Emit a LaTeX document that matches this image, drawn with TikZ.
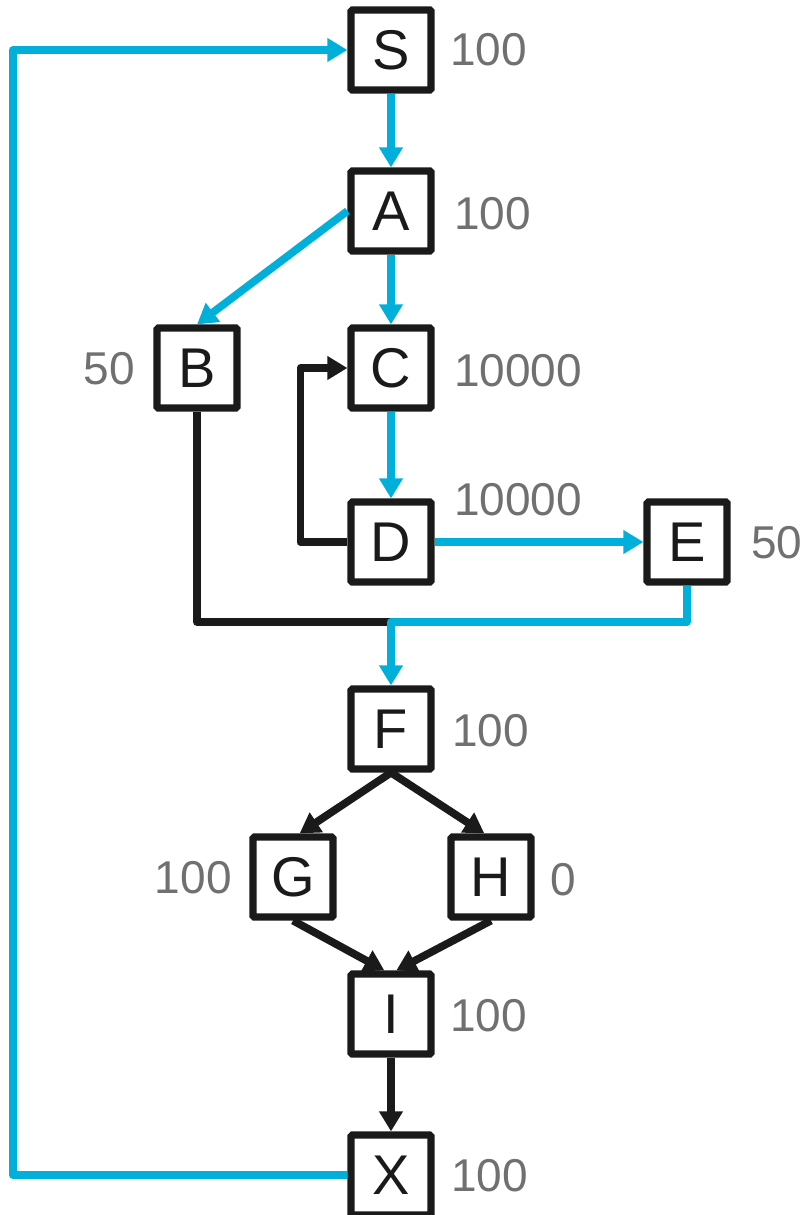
\documentclass[tikz,border=0pt]{standalone}
\usepackage{fontspec}
\setmainfont{Liberation Sans}
\usetikzlibrary{arrows.meta,calc}
\definecolor{flowblue}{HTML}{00B0DA}
\definecolor{boxblack}{HTML}{1A1A1A}
\definecolor{lblgray}{HTML}{707070}
\begin{document}
\begin{tikzpicture}[x=0.75pt,y=-0.75pt,
  box/.style={draw=boxblack,line width=5.4pt,rounded corners=1pt,fill=white,minimum size=60pt,inner sep=0pt,font=\fontsize{42}{42}\selectfont,text=boxblack},
  lbl/.style={text=lblgray,font=\fontsize{34.5}{34.5}\selectfont,inner sep=0pt},
  bl/.style={draw=flowblue,line width=5.8pt,line join=round},
  bk/.style={draw=boxblack,line width=5.8pt,line join=round},
  tip/.style={-{Triangle[length=15pt,width=17pt]}}
]
\useasboundingbox (0,0) rectangle (807,1215);
\node[box] (S) at (391,50) {S};
\node[box] (A) at (391,211) {A};
\node[box] (B) at (197,368) {B};
\node[box] (C) at (391,368) {C};
\node[box] (D) at (391,542) {D};
\node[box] (E) at (687,542) {E};
\node[box] (F) at (391,729) {F};
\node[box] (G) at (293,877) {G};
\node[box] (H) at (491,877) {H};
\node[box] (I) at (391,1014) {I};
\node[box] (X) at (391,1175) {X};

\node[lbl,anchor=west] (lS) at (450,50) {100};
\node[lbl,anchor=west] (lA) at (454,214) {100};
\node[lbl,anchor=east] (lB) at (135,369) {50};
\node[lbl,anchor=west] (lC) at (454,371) {10000};
\node[lbl,anchor=west] (lD) at (454,500) {10000};
\node[lbl,anchor=west] (lE) at (751,543) {50};
\node[lbl,anchor=west] (lF) at (452,731) {100};
\node[lbl,anchor=east] (lG) at (232,878) {100};
\node[lbl,anchor=west] (lH) at (550,880) {0};
\node[lbl,anchor=west] (lI) at (450,1016) {100};
\node[lbl,anchor=west] (lX) at (451,1176) {100};

\coordinate (loop) at (13,600);
\coordinate (merge) at (391,622);

\draw[bl,tip] (X.west) -| (loop) |- (S.west);
\draw[bl,tip] (S.south) -- (A.north);
\draw[bl,tip] (A.south) -- (C.north);
\draw[bl,tip] (A.west) -- (B.north);
\draw[bl,tip] (C.south) -- (D.north);
\draw[bk,tip] (D.west) -- ++(-47,0) |- (C.west);
\draw[bl,tip] (D.east) -- (E.west);
\draw[bk] (B.south) |- (merge);
\draw[bl,tip] (E.south) |- (merge) -- (F.north);
\draw[bk,tip] (F.south) -- ([xshift=5pt]G.north);
\draw[bk,tip] (F.south) -- ([xshift=-5pt]H.north);
\draw[bk,tip] (G.south) -- ([xshift=-5pt]I.north);
\draw[bk,tip] (H.south) -- ([xshift=4pt]I.north);
\draw[bk,tip] (I.south) -- (X.north);
\end{tikzpicture}
\end{document}
